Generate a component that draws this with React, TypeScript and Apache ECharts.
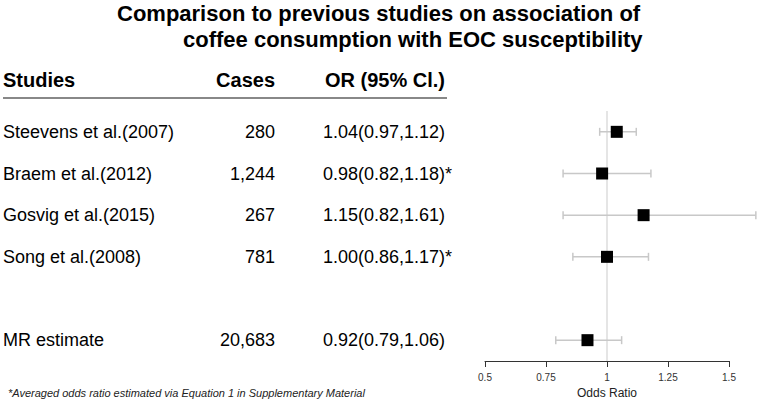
import React, { useEffect, useRef } from "react";
import * as echarts from "echarts";

const studies = ["Steevens et al.(2007)", "Braem et al.(2012)", "Gosvig et al.(2015)", "Song et al.(2008)", "MR estimate"];
const rowIndex = [0, 1, 2, 3, 5];
const cases = ["280", "1,244", "267", "781", "20,683"];
const orLabels = ["1.04(0.97,1.12)", "0.98(0.82,1.18)*", "1.15(0.82,1.61)", "1.00(0.86,1.17)*", "0.92(0.79,1.06)"];
const oddsRatio = [1.04, 0.98, 1.15, 1.0, 0.92];
const lower = [0.97, 0.82, 0.82, 0.86, 0.79];
const upper = [1.12, 1.18, 1.61, 1.17, 1.06];
const xTicks = [0.5, 0.75, 1, 1.25, 1.5];
const headers = ["Studies", "Cases", "OR (95% Cl.)"];
const titleLines = ["Comparison to previous studies on association of", "coffee consumption with EOC susceptibility"];
const footnote = "*Averaged odds ratio estimated via Equation 1 in Supplementary Material";

const FONT = "'Liberation Sans', Arial, sans-serif";

export default function App() {
  const ref = useRef<HTMLDivElement>(null);
  useEffect(() => {
    document.body.style.margin = "0";
    const chart = echarts.init(ref.current!, null, { renderer: "svg" });
    const option: any = {
      animation: false,
      backgroundColor: "#ffffff",
      grid: { left: 485, width: 244, top: 111, height: 250 },
      xAxis: {
        type: "value",
        min: 0.5,
        max: 1.5,
        interval: 0.25,
        splitLine: { show: false },
        axisLine: { show: true, onZero: false, lineStyle: { color: "#333", width: 1 } },
        axisTick: { show: true, length: 6, lineStyle: { color: "#333" } },
        axisLabel: {
          margin: 11,
          color: "#333",
          fontSize: 10,
          fontFamily: FONT,
          formatter: (v: number) => (xTicks.includes(v) ? String(v) : ""),
        },
        name: "Odds Ratio",
        nameLocation: "middle",
        nameGap: 23,
        nameTextStyle: { color: "#222", fontSize: 12, fontFamily: FONT },
      },
      yAxis: {
        type: "value",
        min: -0.5,
        max: 5.5,
        inverse: true,
        show: false,
      },
      graphic: [
        { type: "text", left: 117, top: 2, style: { text: titleLines[0], font: `bold 22px ${FONT}`, fill: "#000" } },
        { type: "text", left: 183, top: 28, style: { text: titleLines[1], font: `bold 22px ${FONT}`, fill: "#000" } },
        { type: "text", x: 3, y: 80, style: { text: headers[0], font: `bold 20px ${FONT}`, fill: "#000", textVerticalAlign: "middle" } },
        { type: "text", x: 275, y: 80, style: { text: headers[1], font: `bold 20px ${FONT}`, fill: "#000", textAlign: "right", textVerticalAlign: "middle" } },
        { type: "text", x: 325, y: 80, style: { text: headers[2], font: `bold 20px ${FONT}`, fill: "#000", textVerticalAlign: "middle" } },
        { type: "line", shape: { x1: 3, y1: 98, x2: 447, y2: 98 }, style: { stroke: "#888", lineWidth: 2 } },
        { type: "text", x: 8, y: 393, style: { text: footnote, font: `italic 11px ${FONT}`, fill: "#222", textVerticalAlign: "middle" } },
      ],
      series: [
        {
          type: "line",
          data: [[1, -0.5], [1, 5.5]],
          symbol: "none",
          lineStyle: { color: "#dddddd", width: 1.5 },
          silent: true,
          z: 1,
        },
        {
          type: "custom",
          clip: false,
          z: 3,
          encode: { x: 0, y: 1 },
          data: rowIndex.map((r, i) => [oddsRatio[i], r, lower[i], upper[i]]),
          renderItem: (params: any, api: any) => {
            const c = api.coord([api.value(0), api.value(1)]);
            const lo = api.coord([api.value(2), api.value(1)]);
            const hi = api.coord([api.value(3), api.value(1)]);
            const barStyle = { stroke: "#c8c8c8", lineWidth: 1.5 };
            const s = 12;
            return {
              type: "group",
              children: [
                { type: "line", shape: { x1: lo[0], y1: c[1], x2: hi[0], y2: c[1] }, style: barStyle },
                { type: "line", shape: { x1: lo[0], y1: c[1] - 4, x2: lo[0], y2: c[1] + 4 }, style: barStyle },
                { type: "line", shape: { x1: hi[0], y1: c[1] - 4, x2: hi[0], y2: c[1] + 4 }, style: barStyle },
                { type: "rect", shape: { x: c[0] - s / 2, y: c[1] - s / 2, width: s, height: s }, style: { fill: "#000" } },
              ],
            };
          },
        },
        {
          type: "custom",
          clip: false,
          z: 4,
          silent: true,
          encode: { x: 0, y: 1 },
          data: rowIndex.map((r, i) => [1, r, i]),
          renderItem: (params: any, api: any) => {
            const y = api.coord([1, api.value(1)])[1];
            const i = api.value(2);
            const f = `18px ${FONT}`;
            return {
              type: "group",
              children: [
                { type: "text", x: 3, y, style: { text: studies[i], font: f, fill: "#000", textVerticalAlign: "middle" } },
                { type: "text", x: 275, y, style: { text: cases[i], font: f, fill: "#000", textAlign: "right", textVerticalAlign: "middle" } },
                { type: "text", x: 323, y, style: { text: orLabels[i], font: f, fill: "#000", textVerticalAlign: "middle" } },
              ],
            };
          },
        },
      ],
    };
    chart.setOption(option);
    return () => chart.dispose();
  }, []);
  return <div ref={ref} style={{ position: "fixed", left: 0, top: 0, width: 760, height: 406 }} />;
}
